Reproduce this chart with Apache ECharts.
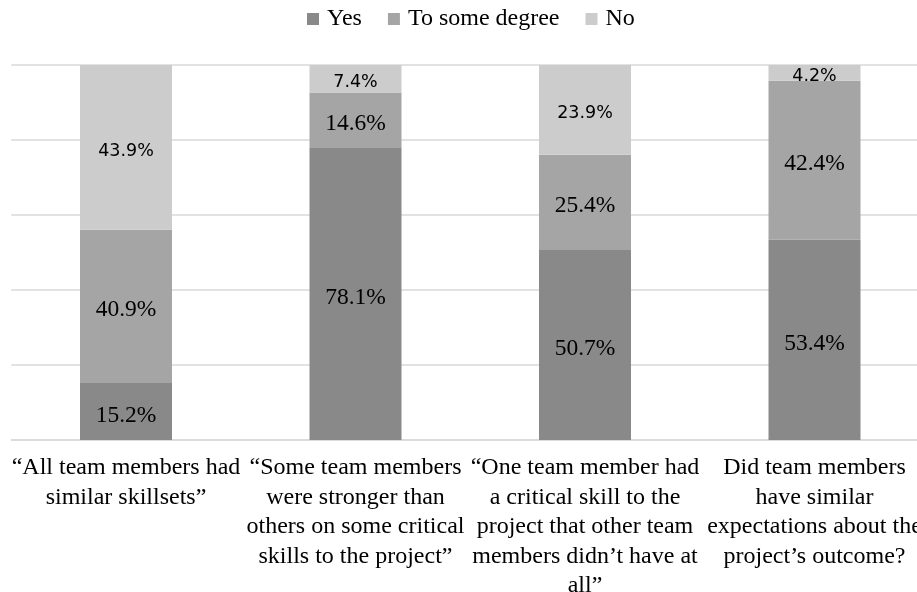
<!DOCTYPE html>
<html>
<head>
<meta charset="utf-8">
<script src="https://cdn.jsdelivr.net/npm/echarts@6/dist/echarts.min.js"></script>
<style>html,body{margin:0;padding:0;background:#fff;}#c{width:917px;height:592px;}</style>
</head>
<body>
<div id="c"></div>
<script>
var categories = [
  '\u201CAll team members had\nsimilar skillsets\u201D',
  '\u201CSome team members\nwere stronger than\nothers on some critical\nskills to the project\u201D',
  '\u201COne team member had\na critical skill to the\nproject that other team\nmembers didn\u2019t have at\nall\u201D',
  'Did team members\nhave similar\nexpectations about the\nproject\u2019s outcome?'
];
var yesValues = [15.2, 78.1, 50.7, 53.4];
var someValues = [40.9, 14.6, 25.4, 42.4];
var noValues = [43.9, 7.4, 23.9, 4.2];
var seriesNames = ['Yes', 'To some degree', 'No'];

var serif = '"Liberation Serif", "Times New Roman", serif';
var sans = '"DejaVu Sans", Verdana, sans-serif';

function mk(name, data, color, font, size) {
  return {
    name: name, type: 'bar', stack: 'total', data: data, barWidth: 92,
    itemStyle: { color: color },
    label: { show: true, position: 'inside', offset: [0, 4],
      formatter: function (p) { return p.value.toFixed(1) + '%'; },
      color: '#000', fontFamily: font, fontSize: size },
    emphasis: { disabled: true }
  };
}

var chart = echarts.init(document.getElementById('c'), null, { renderer: 'canvas' });
chart.setOption({
  animation: false,
  legend: {
    top: 2, left: 302, itemWidth: 12, itemHeight: 12, itemGap: 26,
    icon: 'rect',
    textStyle: { fontFamily: serif, fontSize: 24, color: '#000', padding: [0, 0, 0, 3] },
    data: seriesNames
  },
  grid: { left: 11.25, width: 918, top: 65, bottom: 152, containLabel: false, outerBoundsMode: 'none' },
  xAxis: {
    type: 'category', data: categories,
    axisLine: { lineStyle: { color: '#d9d9d9', width: 1.5 } },
    axisTick: { show: false },
    axisLabel: { interval: 0, margin: 13, fontFamily: serif, fontSize: 24, lineHeight: 29.5, color: '#000' }
  },
  yAxis: {
    type: 'value', min: 0, max: 100, interval: 20,
    axisLabel: { show: false }, axisLine: { show: false }, axisTick: { show: false },
    splitLine: { lineStyle: { color: '#d9d9d9', width: 1.5 } }
  },
  series: [
    mk(seriesNames[0], yesValues, '#898989', serif, 23.5),
    mk(seriesNames[1], someValues, '#a5a5a5', serif, 23.5),
    mk(seriesNames[2], noValues, '#cccccc', sans, 17.5)
  ]
});
</script>
</body>
</html>
